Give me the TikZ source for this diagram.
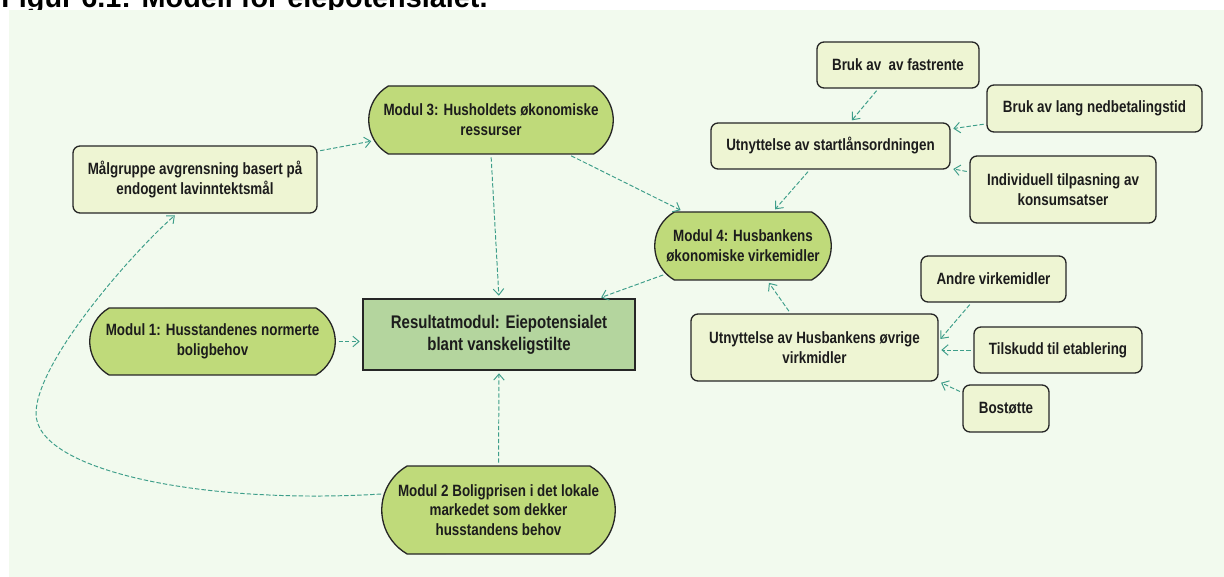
\documentclass[tikz,border=0pt]{standalone}
\usepackage{fontspec}
\setmainfont{Liberation Sans}
\newfontfamily\narrowfont{Liberation Sans}[FakeStretch=0.82]
\usetikzlibrary{shapes.misc,arrows.meta}
\definecolor{panelbg}{HTML}{F2FAEE}
\definecolor{palebox}{HTML}{EEF5D3}
\definecolor{modulfill}{HTML}{BFDA7A}
\definecolor{resultfill}{HTML}{B4D59E}
\definecolor{linkteal}{HTML}{3E9E8A}
\definecolor{inktext}{HTML}{1C1C1C}

\begin{document}
\begin{tikzpicture}[x=0.02cm,y=0.02cm,
  boxsize/.style 2 args={minimum width=#1*0.02cm,minimum height=#2*0.02cm},
  base/.style={draw=black!85,line width=0.75pt,align=center,inner sep=1pt,text=inktext,
    font=\narrowfont\bfseries\fontsize{9.3}{11.2}\selectfont},
  subbox/.style={base,fill=palebox,rounded corners=4pt},
  modul/.style={base,fill=modulfill,rounded rectangle,rounded rectangle arc length=120},
  resultbox/.style={base,fill=resultfill,font=\narrowfont\bfseries\fontsize{10.4}{12.4}\selectfont},
  link/.style={linkteal,line width=0.55pt,dash pattern=on 2.5pt off 1.2pt,
    -{Straight Barb[length=3.5pt,width=6pt]},shorten >=1.5pt,shorten <=1.5pt}]
\useasboundingbox (0,0) rectangle (1224,-577);
\node[anchor=base west,inner sep=0pt,font=\bfseries\fontsize{16.4}{18}\selectfont] (title) at (1,-7.5) {Figur 6.1: Modell for eiepotensialet.};
\fill[panelbg] (9,-10) rectangle (1224,-577);

\node[subbox,boxsize={244}{67}] (malgruppe) at (195,-179.5) {Målgruppe avgrensning basert på\\endogent lavinntektsmål};
\node[modul,boxsize={248}{68}] (m3) at (491,-120) {Modul 3: Husholdets økonomiske\\ressurser};
\node[subbox,boxsize={162}{46}] (fastrente) at (898,-65) {Bruk av\ \ av fastrente};
\node[subbox,boxsize={215}{47}] (lang) at (1094.5,-108.5) {Bruk av lang nedbetalingstid};
\node[subbox,boxsize={239}{46}] (startlan) at (830.5,-146) {Utnyttelse av startlånsordningen};
\node[subbox,boxsize={186}{67}] (individ) at (1063,-189.5) {Individuell tilpasning av\\konsumsatser};
\node[modul,boxsize={180}{68}] (m4) at (743,-246) {Modul 4: Husbankens\\økonomiske virkemidler};
\node[modul,boxsize={249}{67}] (m1) at (212.5,-341.5) {Modul 1: Husstandenes normerte\\boligbehov};
\node[resultbox,boxsize={272}{71}] (result) at (499,-334.5) {Resultatmodul: Eiepotensialet\\blant vanskeligstilte};
\node[subbox,boxsize={247}{67}] (husb) at (814.5,-347.5) {Utnyttelse av Husbankens øvrige\\virkmidler};
\node[subbox,boxsize={145}{46}] (andre) at (993.5,-279) {Andre virkemidler};
\node[subbox,boxsize={168}{46}] (tilskudd) at (1058,-350) {Tilskudd til etablering};
\node[subbox,boxsize={86}{47}] (bostotte) at (1006,-408.5) {Bostøtte};
\node[modul,boxsize={237}{88}] (m2) at (498.5,-510) {Modul 2 Boligprisen i det lokale\\markedet som dekker\\husstandens behov};

\coordinate (bend) at (36,-413);

\draw[link] (malgruppe.13) -- (m3.190);
\draw[link] (m3.south) -- (result.north);
\draw[link] (m3.336) -- (m4.150);
\draw[link] (fastrente) -- (startlan);
\draw[link] (lang) -- (startlan);
\draw[link] (individ) -- (startlan);
\draw[link] (startlan) -- (m4);
\draw[link] (m4) -- (result);
\draw[link] (husb) -- (m4);
\draw[link] (andre.227) -- (husb.3);
\draw[link] (tilskudd.west) -- (tilskudd.west -| husb.east);
\draw[link] (bostotte.160) -- (husb.south east);
\draw[link] (m1.east) -- (m1.east -| result.west);
\draw[link] (m2.north) -- (result.south);
\draw[link] (m2.172) .. controls (200,-505) and (35,-470) .. (bend)
  .. controls (37,-360) and (135,-250) .. (malgruppe.242);
\end{tikzpicture}
\end{document}
